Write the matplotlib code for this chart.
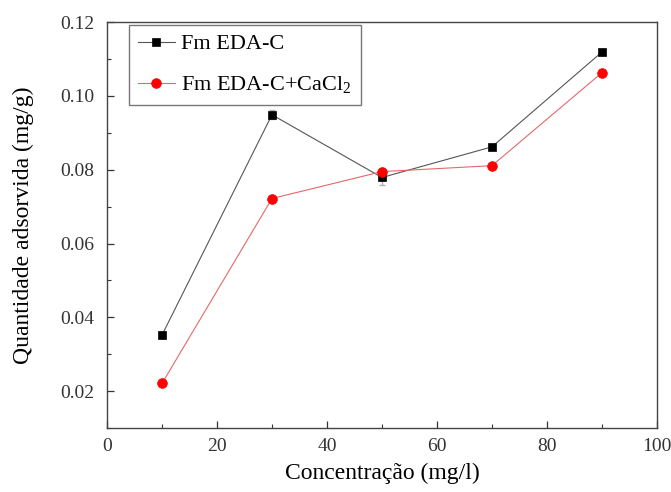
import matplotlib
matplotlib.use("Agg")
import matplotlib.pyplot as plt
from matplotlib.ticker import MultipleLocator, FormatStrFormatter

plt.rcParams['font.family'] = ['Liberation Serif', 'DejaVu Serif']
plt.rcParams['mathtext.fontset'] = 'custom'
plt.rcParams['mathtext.rm'] = 'Liberation Serif'

conc = [10, 30, 50, 70, 90]
fm_eda_c = [0.0352, 0.0949, 0.0779, 0.0862, 0.1119]
fm_eda_c_err = [0.0008, 0.0012, 0.0020, 0.0006, 0.0008]
fm_eda_c_cacl2 = [0.0221, 0.0722, 0.0795, 0.0811, 0.1063]
fm_eda_c_cacl2_err = [0.0006, 0.0006, 0.0010, 0.0006, 0.0010]

fig = plt.figure(figsize=(6.71, 4.92), dpi=100)
ax = fig.add_axes([0.1595, 0.130, 0.8195, 0.825])

# error bars
ax.errorbar(conc, fm_eda_c, yerr=fm_eda_c_err, fmt='none',
            ecolor='#b0b0b0', elinewidth=1.0, capsize=2, zorder=2)
ax.errorbar(conc, fm_eda_c_cacl2, yerr=fm_eda_c_cacl2_err, fmt='none',
            ecolor='#f0b0b0', elinewidth=1.0, capsize=2, zorder=2)

# series
ax.plot(conc, fm_eda_c, color='#555555', lw=0.8,
        marker='s', ms=6, mfc='black', mec='black', mew=0.5,
        label='Fm EDA-C', zorder=3)
ax.plot(conc, fm_eda_c_cacl2, color='#e26a6a', lw=0.8,
        marker='o', ms=7, mfc='red', mec='red', mew=0.5,
        label='Fm EDA-C+CaCl$_\\mathregular{2}$', zorder=4)

ax.set_xlim(0, 100)
ax.set_ylim(0.01, 0.12)
ax.xaxis.set_major_locator(MultipleLocator(20))
ax.xaxis.set_minor_locator(MultipleLocator(10))
ax.yaxis.set_major_locator(MultipleLocator(0.02))
ax.yaxis.set_minor_locator(MultipleLocator(0.01))
ax.yaxis.set_major_formatter(FormatStrFormatter('%.2f'))
ax.tick_params(which='major', direction='in', length=5, width=0.9,
               labelsize=14, colors='#333333')
ax.tick_params(axis='y', which='major', pad=9)
ax.tick_params(axis='x', which='major', pad=7)
ax.tick_params(which='minor', direction='in', length=3, width=0.8, colors='#333333')
for s in ax.spines.values():
    s.set_color('#444444')
    s.set_linewidth(1.0)

ax.set_xlabel('Concentração (mg/l)', fontsize=17, labelpad=6)
ax.set_ylabel('Quantidade adsorvida (mg/g)', fontsize=17, labelpad=19)

leg = ax.legend(loc='upper left', bbox_to_anchor=(0.04, 0.993), borderaxespad=0,
                fontsize=16, frameon=True, fancybox=False, edgecolor='#555555',
                handlelength=1.65, handletextpad=0.3, borderpad=0.4,
                labelspacing=0.9)
leg.get_frame().set_linewidth(1.0)

fig.savefig('out.png', dpi=100)
